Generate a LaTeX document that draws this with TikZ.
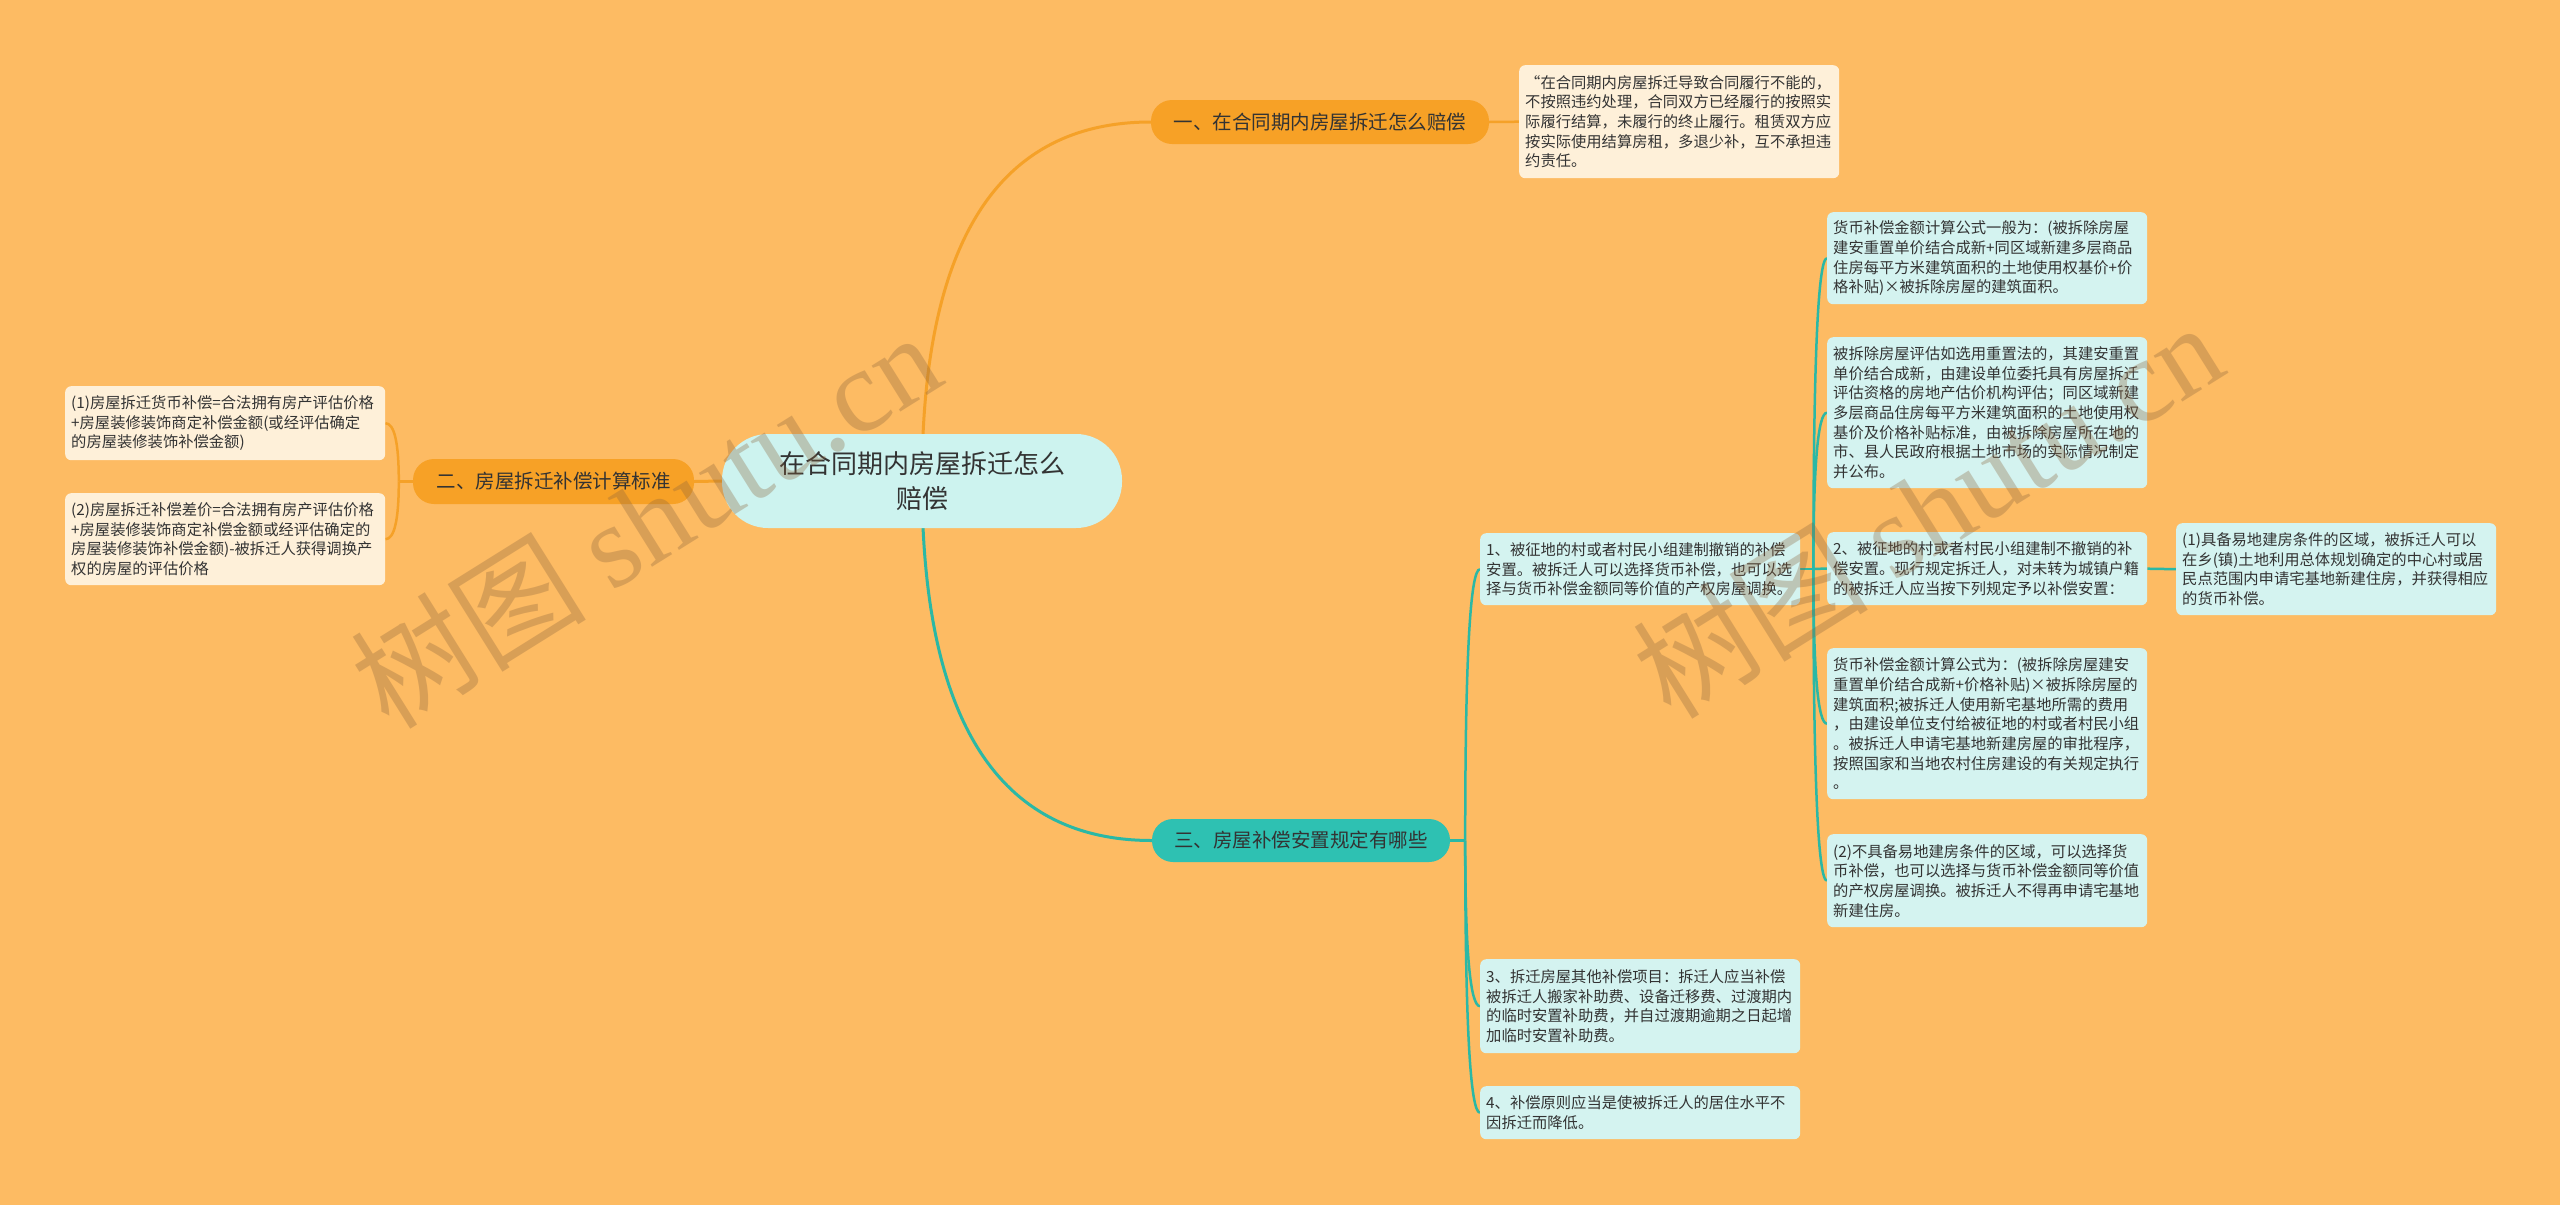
\documentclass[tikz,border=0pt]{standalone}
\usepackage{fontspec}
\setmainfont{Noto Sans CJK SC}
\newfontfamily\wmlatin{Liberation Serif}
\usetikzlibrary{calc}
\definecolor{bgc}{HTML}{FDBB63}
\definecolor{orangeb}{HTML}{F7A126}
\definecolor{creamc}{HTML}{FEF0D9}
\definecolor{tealb}{HTML}{2EC1B2}
\definecolor{tealleaf}{HTML}{D4F3F0}
\definecolor{rootc}{HTML}{CDF3EF}
\definecolor{lineo}{HTML}{F5A128}
\definecolor{linet}{HTML}{2BB8A5}
\definecolor{txt}{HTML}{333333}
\definecolor{wmc}{RGB}{140,100,60}
\pgfdeclarelayer{bg}
\pgfsetlayers{bg,main}
\newcommand\mmcurve[3]{\draw[#1] (#2) .. controls ($(#2)!0.667!(#2 |- #3)$) and ($(#3)!0.667!(#2 |- #3)$) .. (#3);}
\tikzset{
  leaf/.style={anchor=north west, text width=308pt, inner xsep=6pt, inner ysep=0pt, align=left,
    rounded corners=6pt, font=\fontsize{15.3pt}{19.7pt}\selectfont, text=txt},
  leafo/.style={leaf, fill=creamc},
  leaft/.style={leaf, fill=tealleaf},
  branch/.style={rounded corners=21pt, inner sep=0pt, align=center, text=txt,
    font=\fontsize{19.5pt}{23pt}\selectfont},
  brancho/.style={branch, fill=orangeb},
  brancht/.style={branch, fill=tealb},
  rootn/.style={fill=rootc, rounded corners=46pt, minimum width=400pt, minimum height=94pt,
    inner sep=0pt, align=center, text=txt, font=\fontsize{26pt}{35pt}\selectfont},
  lo/.style={draw=lineo, line width=2.5pt},
  lt/.style={draw=linet, line width=2.5pt},
  wm/.style={text=wmc, opacity=0.32, inner sep=0pt, font=\fontsize{118pt}{130pt}\selectfont}
}
\begin{document}
\begin{tikzpicture}[x=1pt,y=-1pt]
\useasboundingbox (0,0) rectangle (2560,1205);
% root and branches
\node[rootn] (root) at (922,481) {在合同期内房屋拆迁怎么\\赔偿};
\node[brancho, minimum width=338pt, minimum height=44pt] (b1) at (1320,122) {一、在合同期内房屋拆迁怎么赔偿};
\node[brancho, minimum width=281pt, minimum height=45pt] (b2) at (553.5,481.5) {二、房屋拆迁补偿计算标准};
\node[brancht, minimum width=298pt, minimum height=43pt] (b3) at (1301,840.5) {三、房屋补偿安置规定有哪些};
% branch 1 leaf
\node[leafo, minimum height=113pt] (L1) at (1519,65) {“在合同期内房屋拆迁导致合同履行不能的，\\不按照违约处理，合同双方已经履行的按照实\\际履行结算，未履行的终止履行。租赁双方应\\按实际使用结算房租，多退少补，互不承担违\\约责任。};
% branch 2 leaves
\node[leafo, minimum height=74pt] (L2a) at (65,386) {(1)房屋拆迁货币补偿=合法拥有房产评估价格\\+房屋装修装饰商定补偿金额(或经评估确定\\的房屋装修装饰补偿金额)};
\node[leafo, minimum height=92pt] (L2b) at (65,493) {(2)房屋拆迁补偿差价=合法拥有房产评估价格\\+房屋装修装饰商定补偿金额或经评估确定的\\房屋装修装饰补偿金额)-被拆迁人获得调换产\\权的房屋的评估价格};
% branch 3 children
\node[leaft, minimum height=72pt] (C1) at (1480,533) {1、被征地的村或者村民小组建制撤销的补偿\\安置。被拆迁人可以选择货币补偿，也可以选\\择与货币补偿金额同等价值的产权房屋调换。};
\node[leaft, minimum height=94pt] (C3) at (1480,959) {3、拆迁房屋其他补偿项目：拆迁人应当补偿\\被拆迁人搬家补助费、设备迁移费、过渡期内\\的临时安置补助费，并自过渡期逾期之日起增\\加临时安置补助费。};
\node[leaft, minimum height=53pt] (C4) at (1480,1086) {4、补偿原则应当是使被拆迁人的居住水平不\\因拆迁而降低。};
% C1 children
\node[leaft, minimum height=92pt] (R1) at (1827,212) {货币补偿金额计算公式一般为：(被拆除房屋\\建安重置单价结合成新+同区域新建多层商品\\住房每平方米建筑面积的土地使用权基价+价\\格补贴)×被拆除房屋的建筑面积。};
\node[leaft, minimum height=151pt] (R2) at (1827,337) {被拆除房屋评估如选用重置法的，其建安重置\\单价结合成新，由建设单位委托具有房屋拆迁\\评估资格的房地产估价机构评估；同区域新建\\多层商品住房每平方米建筑面积的土地使用权\\基价及价格补贴标准，由被拆除房屋所在地的\\市、县人民政府根据土地市场的实际情况制定\\并公布。};
\node[leaft, minimum height=73pt] (R3) at (1827,532) {2、被征地的村或者村民小组建制不撤销的补\\偿安置。现行规定拆迁人，对未转为城镇户籍\\的被拆迁人应当按下列规定予以补偿安置：};
\node[leaft, minimum height=92pt] (RC) at (2176,523) {(1)具备易地建房条件的区域，被拆迁人可以\\在乡(镇)土地利用总体规划确定的中心村或居\\民点范围内申请宅基地新建住房，并获得相应\\的货币补偿。};
\node[leaft, minimum height=151pt] (R4) at (1827,648) {货币补偿金额计算公式为：(被拆除房屋建安\\重置单价结合成新+价格补贴)×被拆除房屋的\\建筑面积;被拆迁人使用新宅基地所需的费用\\，由建设单位支付给被征地的村或者村民小组\\。被拆迁人申请宅基地新建房屋的审批程序，\\按照国家和当地农村住房建设的有关规定执行\\。};
\node[leaft, minimum height=93pt] (R5) at (1827,834) {(2)不具备易地建房条件的区域，可以选择货\\币补偿，也可以选择与货币补偿金额同等价值\\的产权房屋调换。被拆迁人不得再申请宅基地\\新建住房。};
% connectors
\begin{pgfonlayer}{bg}
\fill[bgc] (0,0) rectangle (2560,1205);
\mmcurve{lo, line width=3pt}{root.center}{b1.west}
\mmcurve{lt, line width=3pt}{root.center}{b3.west}
\draw[lo, line width=3pt] (root.west) -- (b2.east);
\draw[lo] (b1.east) -- (L1.west);
\coordinate (s2) at ($(b2.west)+(-14,0)$);
\draw[lo] (b2.west) -- (s2);
\mmcurve{lo}{s2}{L2a.east}
\mmcurve{lo}{s2}{L2b.east}
\coordinate (s3) at ($(b3.east)+(15,0)$);
\draw[lt] (b3.east) -- (s3);
\mmcurve{lt}{s3}{C1.west}
\mmcurve{lt}{s3}{C3.west}
\mmcurve{lt}{s3}{C4.west}
\coordinate (s1) at ($(C1.east)+(13,0)$);
\draw[lt] (C1.east) -- (s1);
\mmcurve{lt}{s1}{R1.west}
\mmcurve{lt}{s1}{R2.west}
\mmcurve{lt}{s1}{R3.west}
\mmcurve{lt}{s1}{R4.west}
\mmcurve{lt}{s1}{R5.west}
\draw[lt] (R3.east) -- (RC.west);
\end{pgfonlayer}
% watermarks
\node[wm, rotate=32] (wm1) at (645,519) {树图 {\wmlatin shutu.cn}};
\node[wm, rotate=32] (wm2) at (1927,509) {树图 {\wmlatin shutu.cn}};
\end{tikzpicture}
\end{document}
